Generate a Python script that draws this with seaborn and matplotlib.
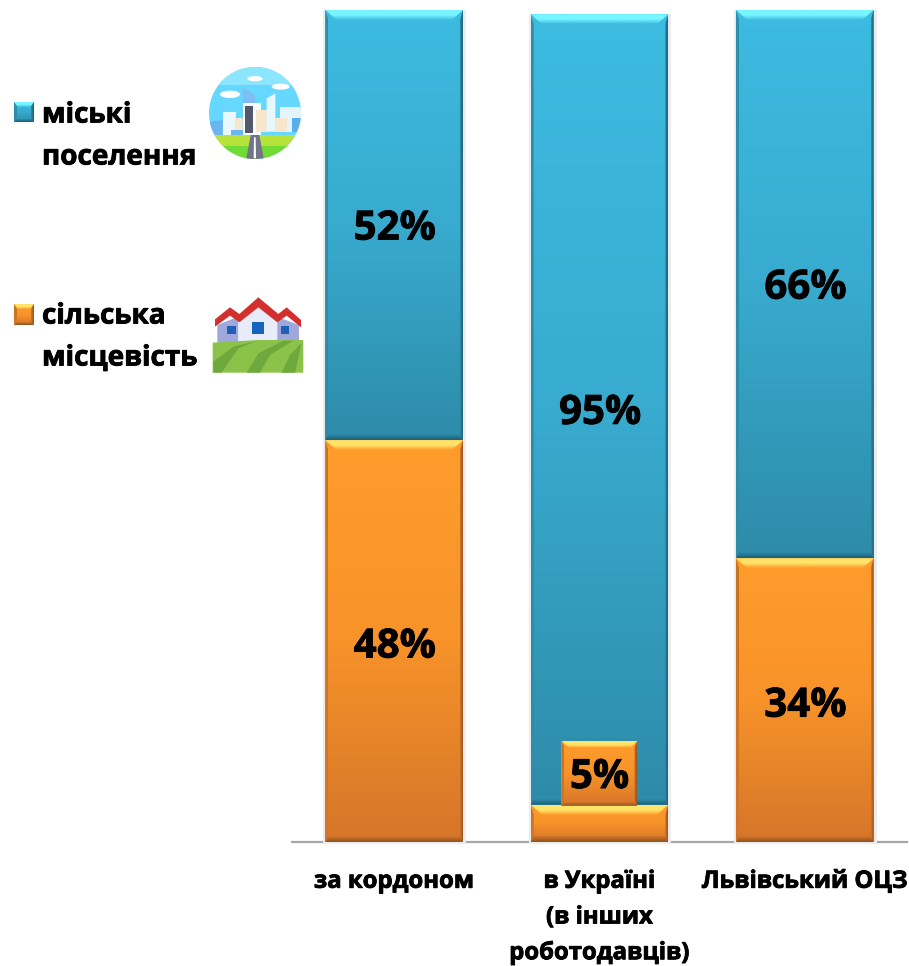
import numpy as np
import matplotlib
matplotlib.use("Agg")
import matplotlib.pyplot as plt
import matplotlib.patheffects as pe
import seaborn as sns
from matplotlib.colors import LinearSegmentedColormap, to_rgb
from matplotlib.patches import Polygon, Circle, Rectangle, Ellipse

categories = ["за кордоном", "в Україні\n(в інших\nроботодавців)", "Львівський ОЦЗ"]
rural = [48.3, 4.5, 34.1]
urban = [51.7, 95.0, 65.9]
rural_labels = ["48%", "5%", "34%"]
urban_labels = ["52%", "95%", "66%"]
legend_names = ["міські\nпоселення", "сільська\nмісцевість"]

W, H = 909, 966
BLUE = dict(top="#3dbbe1", mid="#38abcf", bottom="#2e8ba9", light="#78f6ff", dark="#1d5e76", side="#2f8eac")
ORANGE = dict(top="#ff9c2c", mid="#f79329", bottom="#d6752a", light="#ffe46a", dark="#8e5420", side="#c4741f")
HEAVY = [pe.withStroke(linewidth=0.6, foreground="black")]

sns.set_theme(style="white")
plt.rcParams["font.family"] = ["Open Sans", "DejaVu Sans"]
plt.rcParams["font.weight"] = "bold"

fig = plt.figure(figsize=(W / 100, H / 100), dpi=100)
ax = fig.add_axes([291.5 / W, (H - 842) / H, 616 / W, 832 / H])

sns.barplot(x=categories, y=rural, color=ORANGE["top"], width=0.67, ax=ax, saturation=1)
sns.barplot(x=categories, y=urban, bottom=rural, color=BLUE["top"], width=0.67, ax=ax, saturation=1)
ax.set_ylim(0, 100)
ax.set_yticks([])
sns.despine(ax=ax, left=True)
ax.spines["bottom"].set_color("#a6a6a6")
ax.spines["bottom"].set_linewidth(1.6)
ax.tick_params(axis="x", length=0, pad=20)
for lab in ax.get_xticklabels():
    lab.set_fontsize(17.2)
    lab.set_fontweight("bold")
    lab.set_color("black")
    lab.set_linespacing(1.65)
    lab.set_path_effects(HEAVY)

# overlay in image pixels, used for the bevels and the legend
pix = fig.add_axes([0, 0, 1, 1], facecolor="none")
pix.axis("off")


def gradient(clip, x0, y0, x1, y1, colors, horizontal=False):
    cmap = LinearSegmentedColormap.from_list("g", [to_rgb(c) for c in colors])
    g = np.linspace(0, 1, 128).reshape(-1, 1)
    if horizontal:
        g = g.T
    im = pix.imshow(g, cmap=cmap, extent=(x0, x1, y1, y0), origin="upper",
                    aspect="auto", vmin=0, vmax=1, zorder=3)
    p = Polygon(clip, transform=pix.transData, fill=False, edgecolor="none")
    pix.add_patch(p)
    im.set_clip_path(p)


def bevel_rect(x0, y0, x1, y1, c, t=10, s=3, b=6, m=11, shadow=True):
    if shadow:
        pix.add_patch(Rectangle((x0 - 2, y0), x1 - x0 + 5, y1 - y0 + 2, color="#ececec", lw=0, zorder=2.5))
    box = [(x0, y0), (x1, y0), (x1, y1), (x0, y1)]
    gradient(box, x0, y0, x1, y1, [c["top"], c["mid"], c["bottom"]])
    # top, bottom, left and right faces with mitred corners
    gradient([(x0, y0), (x1, y0), (x1 - m, y0 + t), (x0 + m, y0 + t)], x0, y0, x1, y0 + t,
             [c["light"], c["light"], c["top"]])
    gradient([(x0, y1), (x1, y1), (x1 - s, y1 - b), (x0 + s, y1 - b)], x0, y1 - b, x1, y1,
             [c["bottom"], c["dark"]])
    gradient([(x0, y0), (x0 + s, y0 + t), (x0 + s, y1 - b), (x0, y1)], x0, y0, x0 + s, y1,
             [c["side"], c["bottom"]])
    gradient([(x1, y0), (x1 - s, y0 + t), (x1 - s, y1 - b), (x1, y1)], x1 - s, y0, x1, y1,
             [c["bottom"], c["dark"]], True)


def bar_pixels(patch):
    bb = patch.get_window_extent(fig.canvas.get_renderer())
    return bb.x0, H - bb.y1, bb.x1, H - bb.y0


def value_text(x, y, s):
    pix.text(x, y, s, ha="center", va="center", fontsize=29, fontweight="bold",
             color="black", zorder=6, path_effects=HEAVY)


fig.canvas.draw()
n = len(categories)
rural_bars = ax.patches[:n]
urban_bars = ax.patches[n:]

for i in range(n):
    x0, y0, x1, y1 = bar_pixels(urban_bars[i])
    bevel_rect(x0, y0, x1, y1, BLUE)
    value_text((x0 + x1) / 2 + 0.5, (y0 + y1) / 2 + 4, urban_labels[i])
for i in range(n):
    x0, y0, x1, y1 = bar_pixels(rural_bars[i])
    bevel_rect(x0, y0, x1, y1, ORANGE)
    xc = (x0 + x1) / 2
    if rural[i] < 10:
        # small value: label sits in its own box above the bar
        bevel_rect(xc - 38, y0 - 64, xc + 38, y0 + 1, ORANGE, t=7, s=3, b=4, m=7)
        value_text(xc, y0 - 27, rural_labels[i])
    else:
        value_text(xc + 0.5, (y0 + y1) / 2 + 6, rural_labels[i])

# legend
bevel_rect(14, 102, 34, 122, BLUE, t=5, s=3, b=3, m=4, shadow=False)
bevel_rect(14, 304, 34, 325, ORANGE, t=5, s=3, b=3, m=4, shadow=False)
for name, y in zip(legend_names, [115, 316]):
    first, second = name.split("\n")
    pix.text(42, y, first, ha="left", va="center", fontsize=20.1, fontweight="bold",
             color="black", zorder=6, path_effects=HEAVY)
    pix.text(42, y + 42, second, ha="left", va="center", fontsize=20.1, fontweight="bold",
             color="black", zorder=6, path_effects=HEAVY)


def zp(pts):
    return [(a / 3, 50 + b / 3) for a, b in pts]


def shape(pts, color, clip=None, z=4):
    p = Polygon(zp(pts), closed=True, color=color, lw=0, zorder=z)
    pix.add_patch(p)
    if clip is not None:
        p.set_clip_path(clip)


# city icon
disc = Circle((255, 113), 46, transform=pix.transData, color="#66d8ff", lw=0, zorder=3.5)
pix.add_patch(disc)
upper = Rectangle((205, 60), 100, 25, color="#8ce6ff", lw=0, zorder=3.6)
pix.add_patch(upper)
upper.set_clip_path(disc)
city = [
    ([(630, 255), (630, 215), (668, 210), (668, 255)], "#6ab4f0"),
    ([(670, 255), (670, 185), (707, 185), (707, 255)], "#eaf7fc"),
    ([(705, 255), (705, 205), (730, 205), (730, 255)], "#f6e7cc"),
    ([(693, 255), (693, 240), (730, 240), (730, 255)], "#6ab4f0"),
    ([(728, 112), (765, 135), (765, 255), (728, 255)], "#7fbdf4"),
    ([(730, 160), (782, 160), (782, 255), (730, 255)], "#f4fbfe"),
    ([(735, 167), (758, 167), (758, 248), (735, 248)], "#54566a"),
    ([(768, 180), (800, 180), (800, 245), (768, 245)], "#f6e7cc"),
    ([(800, 145), (826, 130), (826, 245), (800, 245)], "#e6f7fd"),
    ([(826, 205), (862, 205), (862, 245), (826, 245)], "#f6e7cc"),
    ([(840, 170), (903, 170), (903, 245), (862, 245), (862, 205), (840, 205)], "#e3f4fb"),
    ([(875, 205), (903, 205), (903, 245), (875, 245)], "#58aeea"),
    ([(627, 255), (903, 255), (903, 290), (627, 290)], "#b5e33c"),
    ([(627, 288), (903, 288), (903, 330), (627, 330)], "#70dc33"),
    ([(752, 255), (778, 255), (792, 330), (738, 330)], "#73738a"),
]
for pts, col in city:
    shape(pts, col, clip=disc)
for cx, cy, w, h in [(690, 133, 60, 22), (765, 86, 46, 16), (842, 110, 54, 18)]:
    e = Ellipse((cx / 3, 50 + cy / 3), w / 3, h / 3, color="white", lw=0, zorder=4)
    pix.add_patch(e)
    e.set_clip_path(disc)
shape([(762, 262), (767, 262), (768, 325), (761, 325)], "#ffffff", clip=disc, z=4.5)

# village icon
shape([(652, 880), (652, 825), (715, 800), (715, 880)], "#9ea8da")
shape([(830, 880), (830, 800), (897, 825), (897, 880)], "#9ea8da")
shape([(716, 880), (716, 795), (775, 760), (832, 795), (832, 880)], "#e8ecf8")
shape([(645, 830), (645, 808), (690, 772), (718, 792), (775, 742), (835, 792), (860, 772),
       (903, 810), (903, 832), (860, 797), (832, 817), (775, 772), (718, 817), (690, 797)], "#d32f2f")
shape([(755, 815), (793, 815), (793, 852), (755, 852)], "#1565c0")
shape([(682, 828), (707, 828), (707, 852), (682, 852)], "#1f5fb4")
shape([(842, 828), (866, 828), (866, 852), (842, 852)], "#1f5fb4")
shape([(638, 878), (775, 870), (910, 870), (910, 968), (638, 968)], "#8bc34a")
shape([(640, 935), (700, 890), (770, 873), (715, 895), (665, 968), (640, 968)], "#6fa83c")
shape([(740, 968), (775, 910), (850, 872), (880, 872), (810, 915), (780, 968)], "#6fa83c")
shape([(845, 968), (870, 915), (905, 878), (885, 968)], "#6fa83c")

pix.set_xlim(0, W)
pix.set_ylim(H, 0)

fig.savefig("out.png", dpi=100)
